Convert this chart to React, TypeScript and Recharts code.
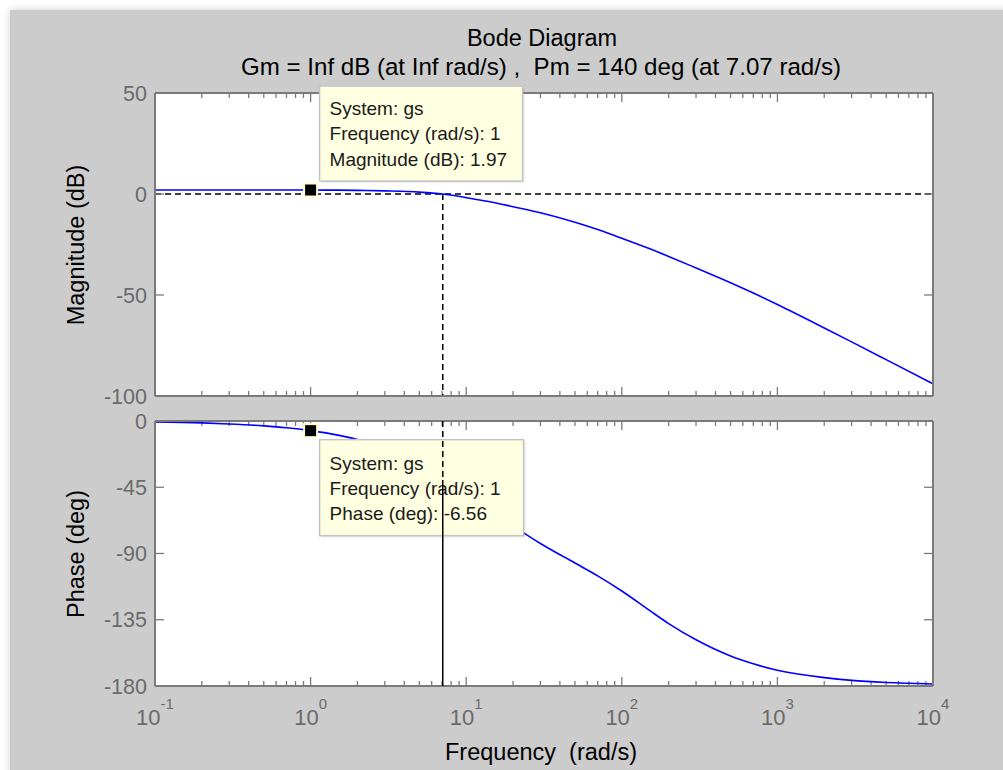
import { LineChart, Line, XAxis, YAxis, CartesianGrid, ReferenceLine, ReferenceDot } from 'recharts'

// frequency grid (rad/s) and values
const freqs = [0.1, 0.2, 0.3, 0.5, 0.7, 1, 1.5, 2, 3, 5, 7.07, 10, 15, 20, 30, 50, 70, 100, 150, 200, 300, 500, 700, 1000, 2000, 3000, 5000, 10000]
const magDb = [2.0, 2.0, 2.0, 2.0, 1.99, 1.97, 1.9, 1.8, 1.55, 0.95, 0, -1.8, -4.2, -6.3, -9.3, -14.0, -17.6, -21.9, -27.0, -30.9, -36.6, -43.9, -49.0, -54.7, -66.3, -73.2, -82.0, -94.0]
const phaseDeg = [-0.6, -1.3, -2.0, -3.3, -4.6, -6.56, -9.6, -12.6, -18.5, -29.5, -40, -51, -63, -71.3, -83.2, -96.5, -105.2, -115.5, -128.5, -137.6, -148.6, -159.6, -164.9, -169.3, -174.3, -176.2, -177.6, -178.6]

const decades = [0.1, 1, 10, 100, 1000, 10000]
const minorMults = [2, 3, 4, 5, 6, 7, 8, 9]
const magTicks = [-100, -50, 0, 50]
const phaseTicks = [-180, -135, -90, -45, 0]

// margin markers + data tips
const wc = 7.07
const phaseAtWc = -40
const tipW = 1
const tipMag = 1.97
const tipPhase = -6.56

const xTicks = [...decades, ...decades.slice(0, -1).flatMap(d => minorMults.map(m => d * m))]
const magData = freqs.map((w, i) => ({ w, mag: magDb[i] }))
const phaseData = freqs.map((w, i) => ({ w, phase: phaseDeg[i] }))

const FONT = "'Liberation Sans', Arial, Helvetica, sans-serif"
const AX = '#7a7a7a'
const TXT = '#6a6a6a'
const TIP_BG = '#ffffe1'

const PLOT_W = 778 // plot box width, for mirroring y ticks on the right edge

const isMajor = (v: number) => Math.abs(Math.log10(v) - Math.round(Math.log10(v))) < 1e-6

// inward tick marks on top and bottom edge, drawn from a vertical reference line
const TickPair = (props: any) => {
  const { x1, y1, y2, major } = props
  const top = Math.min(y1, y2)
  const bot = Math.max(y1, y2)
  const len = major ? 9 : 5
  return (
    <g>
      <line x1={x1} y1={bot} x2={x1} y2={bot - len} stroke={AX} strokeWidth={1.3} />
      <line x1={x1} y1={top} x2={x1} y2={top + len} stroke={AX} strokeWidth={1.3} />
    </g>
  )
}

const XLabel = (props: any) => {
  const { x, y, payload } = props
  const v = payload.value
  if (!isMajor(v)) return null
  return (
    <text x={x} y={y + 39} textAnchor="middle" fill={TXT} fontFamily={FONT} fontSize={22}>
      10<tspan dy={-16} fontSize={15}>{Math.round(Math.log10(v))}</tspan>
    </text>
  )
}

const YTick = (props: any) => {
  const { x, y, payload } = props
  return (
    <g>
      <line x1={x} y1={y} x2={x + 9} y2={y} stroke={AX} strokeWidth={1.3} />
      <line x1={x + PLOT_W} y1={y} x2={x + PLOT_W - 9} y2={y} stroke={AX} strokeWidth={1.3} />
      <text x={x - 8} y={y} dy="0.36em" textAnchor="end" fill={TXT} fontFamily={FONT} fontSize={21.5}>
        {payload.value}
      </text>
    </g>
  )
}

const TipBox = ({ x, y, w, h, lines, first }: { x: number; y: number; w: number; h: number; lines: string[]; first: number }) => (
  <g>
    <rect x={x + 2} y={y + 2} width={w} height={h} fill="rgba(0,0,0,0.08)" />
    <rect x={x} y={y} width={w} height={h} fill={TIP_BG} stroke="#c4c4c4" strokeWidth={1.5} />
    {lines.map((t, i) => (
      <text key={i} x={x + 10} y={y + first + i * 25.3} fill="#1a1a1a" fontFamily={FONT} fontSize={19}>{t}</text>
    ))}
  </g>
)

const Marker = ({ cx, cy }: { cx: number; cy: number }) => (
  <rect x={cx - 6.5} y={cy - 6.5} width={13} height={13} fill="#000" stroke="#ffffd2" strokeWidth={2} />
)

const MagTip = (p: any) => (
  <g>
    <TipBox x={p.cx + 9} y={p.cy - 104} w={203} h={95} first={29}
      lines={['System: gs', 'Frequency (rad/s): 1', `Magnitude (dB): ${tipMag}`]} />
    <Marker cx={p.cx} cy={p.cy} />
  </g>
)

const PhaseTip = (p: any) => (
  <g>
    <TipBox x={p.cx + 9} y={p.cy + 9} w={204} h={96} first={30}
      lines={['System: gs', 'Frequency (rad/s): 1', `Phase (deg): ${tipPhase}`]} />
    <Marker cx={p.cx} cy={p.cy} />
  </g>
)

const xCommon = {
  type: 'number' as const, scale: 'log' as const, domain: [0.1, 10000], ticks: xTicks, interval: 0,
  allowDataOverflow: true, tickSize: 0, tickMargin: 0, tickLine: false,
  axisLine: { stroke: AX, strokeWidth: 2 },
}
const yCommon = {
  type: 'number' as const, interval: 0, allowDataOverflow: true, tickSize: 0, tickMargin: 0, tickLine: false,
  axisLine: { stroke: AX, strokeWidth: 2 },
}

const tickLines = () => xTicks.map(v => (
  <ReferenceLine key={`t${v}`} x={v} ifOverflow="visible" zIndex={0} shape={<TickPair major={isMajor(v)} />} />
))

const label = (top: number, left: number, text: string, size = 23.5, rotate = false) => (
  <div style={{
    position: 'absolute', top, left, transform: rotate ? 'translate(-50%, -50%) rotate(-90deg)' : 'translate(-50%, 0)',
    whiteSpace: 'pre', fontFamily: FONT, fontSize: size, lineHeight: '28px', color: '#000',
  }}>{text}</div>
)

export default function App() {
  return (
    <div style={{ position: 'absolute', left: 0, top: 0, width: 1003, height: 770, background: '#fff', overflow: 'hidden' }}>
      <div style={{ position: 'absolute', left: 10, top: 10, width: 1003, height: 770, background: '#cccccc', boxShadow: '0 0 8px rgba(0,0,0,0.18)' }} />

      {label(24, 542, 'Bode Diagram')}
      {label(53, 541, 'Gm = Inf dB (at Inf rad/s) ,  Pm = 140 deg (at 7.07 rad/s)', 24.1)}
      {label(738, 541, 'Frequency  (rad/s)')}
      {label(245, 76, 'Magnitude (dB)', 23.5, true)}
      {label(554, 76, 'Phase (deg)', 23.5, true)}

      <div style={{ position: 'absolute', left: 0, top: 0 }}>
        <LineChart width={1003} height={410} data={magData} margin={{ top: 83, right: 60, bottom: 4, left: 55 }}>
          <CartesianGrid fill="#fff" stroke="none" horizontal={false} vertical={false} />
          <XAxis {...xCommon} dataKey="w" height={10} tick={false} />
          <XAxis {...xCommon} xAxisId="top" orientation="top" height={10} tick={false} />
          <YAxis {...yCommon} domain={[-100, 50]} ticks={magTicks} width={100} tick={<YTick />} />
          <YAxis {...yCommon} yAxisId="r" orientation="right" domain={[-100, 50]} width={10} tick={false} />
          {tickLines()}
          <ReferenceLine y={0} stroke="#000" strokeWidth={1.5} strokeDasharray="6 4" />
          <ReferenceLine segment={[{ x: wc, y: 0 }, { x: wc, y: -100 }]} stroke="#000" strokeWidth={1.5} strokeDasharray="6 4" />
          <Line type="monotone" dataKey="mag" stroke="#0000ff" strokeWidth={1.6} dot={false} isAnimationActive={false} />
          <ReferenceDot x={tipW} y={tipMag} r={6} ifOverflow="visible" shape={MagTip} zIndex={1200} />
        </LineChart>
      </div>

      <div style={{ position: 'absolute', left: 0, top: 400 }}>
        <LineChart width={1003} height={370} data={phaseData} margin={{ top: 11, right: 60, bottom: 24, left: 55 }}>
          <CartesianGrid fill="#fff" stroke="none" horizontal={false} vertical={false} />
          <XAxis {...xCommon} dataKey="w" height={60} tick={<XLabel />} />
          <XAxis {...xCommon} xAxisId="top" orientation="top" height={10} tick={false} />
          <YAxis {...yCommon} domain={[-180, 0]} ticks={phaseTicks} width={100} tick={<YTick />} />
          <YAxis {...yCommon} yAxisId="r" orientation="right" domain={[-180, 0]} width={10} tick={false} />
          {tickLines()}
          <ReferenceLine y={-180} stroke="#000" strokeWidth={1.5} strokeDasharray="6 4" />
          <Line type="monotone" dataKey="phase" stroke="#0000ff" strokeWidth={1.6} dot={false} isAnimationActive={false} />
          <ReferenceDot x={tipW} y={tipPhase} r={6} ifOverflow="visible" shape={PhaseTip} zIndex={1200} />
          <ReferenceLine segment={[{ x: wc, y: 0 }, { x: wc, y: phaseAtWc }]} stroke="#000" strokeWidth={1.5} strokeDasharray="6 4" zIndex={1500} />
          <ReferenceLine segment={[{ x: wc, y: phaseAtWc }, { x: wc, y: -180 }]} stroke="#000" strokeWidth={1.5} zIndex={1500} />
        </LineChart>
      </div>
    </div>
  )
}
